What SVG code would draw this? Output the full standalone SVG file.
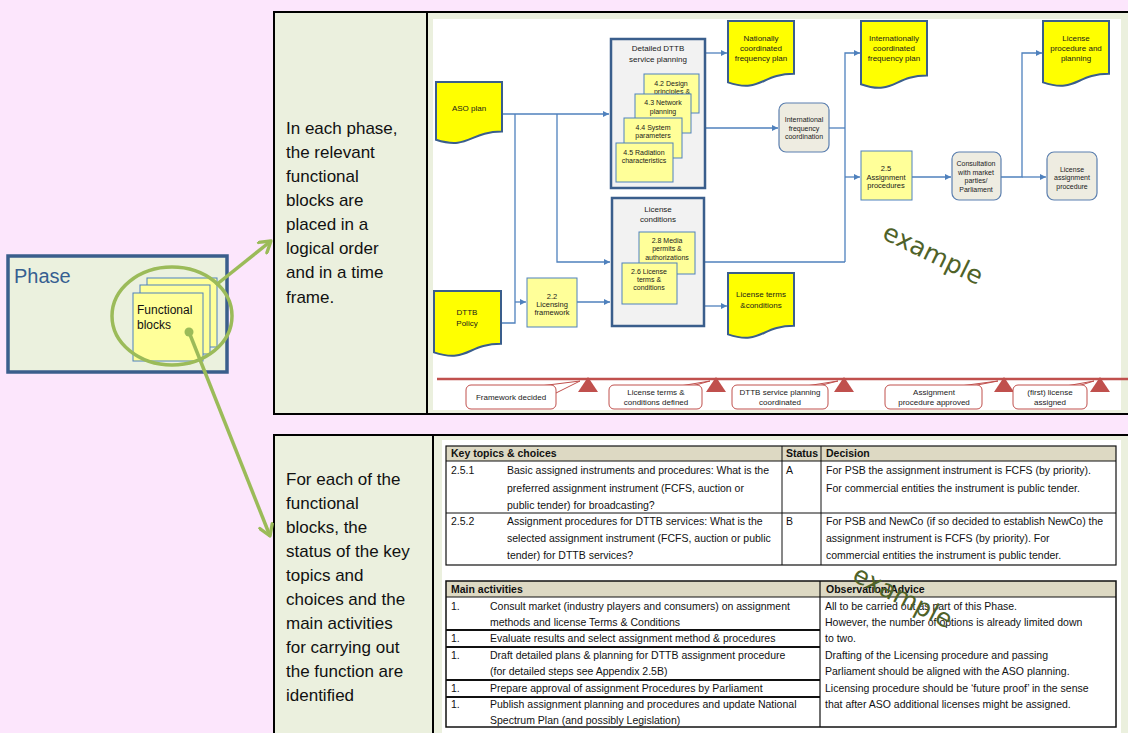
<svg xmlns="http://www.w3.org/2000/svg" width="1128" height="733" viewBox="0 0 1128 733">
<defs>
<style>
  .lbl{font-family:"Liberation Sans",Arial,sans-serif;font-size:8px;fill:#1a1a1a;text-anchor:middle}
  .s7{font-size:7px}
  .s75{font-size:7.5px}
  .doc{fill:#FFFF00;stroke:#3A5E8C;stroke-width:2}
  .fb{fill:#FFFF99;stroke:#4F81BD;stroke-width:1}
  .grp{fill:#F2F2F2;stroke:#3A5E8C;stroke-width:2.5}
  .rbox{fill:#EEECE1;stroke:#5B7FAF;stroke-width:1.2}
  .conn{fill:none;stroke:#4F81BD;stroke-width:1.3}
  .tl{fill:#fff;stroke:#C0504D;stroke-width:1}
  .tri{fill:#C0504D}
  .big{font-family:"Liberation Sans",Arial,sans-serif;font-size:17px;fill:#111}
  .tb{font-family:"Liberation Sans",Arial,sans-serif;font-size:10.5px;fill:#111}
  .bold{font-weight:bold}
  .wm{font-family:"DejaVu Sans",Verdana,sans-serif;font-size:25px;fill:#4F6228}
  .frame{fill:none;stroke:#000;stroke-width:2}
  .green{fill:none;stroke:#9BBB59;stroke-width:3.5}
</style>
<marker id="arr" viewBox="0 0 10 10" refX="10" refY="5" markerWidth="7" markerHeight="6" markerUnits="userSpaceOnUse" orient="auto">
  <path d="M0,0 L10,5 L0,10 z" fill="#4F81BD"/>
</marker>
<marker id="garr" viewBox="0 0 12 12" refX="10" refY="6" markerWidth="16" markerHeight="16" markerUnits="userSpaceOnUse" orient="auto">
  <path d="M2,1 L10,6 L2,11" fill="none" stroke="#9BBB59" stroke-width="2.5" stroke-linecap="round" stroke-linejoin="round"/>
</marker>
</defs>

<!-- page background -->
<rect x="0" y="0" width="1128" height="733" fill="#FCE6FC"/>

<!-- upper panel -->
<g id="panel-top">
  <rect x="274" y="12" width="860" height="402" fill="#EBF0DE"/>
  <rect x="433" y="19" width="688" height="391" fill="#FFFFFF"/>
  <path class="frame" d="M1128,12 H274 V414 H1128 M427,12 V414"/>
  <text class="big" x="286" y="134">In each phase,</text>
  <text class="big" x="286" y="158">the relevant</text>
  <text class="big" x="286" y="182">functional</text>
  <text class="big" x="286" y="206">blocks are</text>
  <text class="big" x="286" y="230">placed in a</text>
  <text class="big" x="286" y="254">logical order</text>
  <text class="big" x="286" y="278">and in a time</text>
  <text class="big" x="286" y="303">frame.</text>
</g>

<!-- lower panel -->
<g id="panel-bottom">
  <rect x="274" y="435" width="860" height="300" fill="#EBF0DE"/>
  <rect x="442" y="440" width="679" height="293" fill="#FFFFFF"/>
  <path class="frame" d="M1128,435 H274 V733 M433,435 V733"/>
  <text class="big" x="286" y="485">For each of the</text>
  <text class="big" x="286" y="509">functional</text>
  <text class="big" x="286" y="533">blocks, the</text>
  <text class="big" x="286" y="557">status of the key</text>
  <text class="big" x="286" y="581">topics and</text>
  <text class="big" x="286" y="605">choices and the</text>
  <text class="big" x="286" y="629">main activities</text>
  <text class="big" x="286" y="653">for carrying out</text>
  <text class="big" x="286" y="677">the function are</text>
  <text class="big" x="286" y="701">identified</text>
</g>

<!-- phase overview -->
<g id="phase">
  <rect x="8" y="256" width="219" height="116" fill="#EBF1DE" stroke="#3A5E8C" stroke-width="3.5"/>
  <text x="14" y="283" font-family="Liberation Sans, Arial, sans-serif" font-size="20" fill="#365F91">Phase</text>
  <rect x="147" y="278" width="70" height="69" class="fb"/>
  <rect x="140" y="285" width="70" height="69" class="fb"/>
  <rect x="133" y="293" width="70" height="68" class="fb"/>
  <text x="137" y="314" font-family="Liberation Sans, Arial, sans-serif" font-size="12" fill="#111">Functional</text>
  <text x="137" y="329" font-family="Liberation Sans, Arial, sans-serif" font-size="12" fill="#111">blocks</text>
  <ellipse cx="172" cy="316" rx="60" ry="49" class="green"/>
</g>

<g id="pointers">
  <path class="green" d="M216,285 L271,241" marker-end="url(#garr)"/>
  <circle cx="189" cy="332" r="4.5" fill="#9BBB59"/>
  <path class="green" d="M189,332 L270,536" marker-end="url(#garr)"/>
</g>

<!-- process flow -->
<g id="connectors">
  <path class="conn" d="M502,114 H609" marker-end="url(#arr)"/>
  <path class="conn" d="M515,114 V323 H501"/>
  <path class="conn" d="M515,302 H526" marker-end="url(#arr)"/>
  <path class="conn" d="M557,114 V262 H610" marker-end="url(#arr)"/>
  <path class="conn" d="M577,302 H610" marker-end="url(#arr)"/>
  <path class="conn" d="M706,53 H727" marker-end="url(#arr)"/>
  <path class="conn" d="M706,128 H778" marker-end="url(#arr)"/>
  <path class="conn" d="M829,128 H845"/>
  <path class="conn" d="M845,262 V53 H860" marker-end="url(#arr)"/>
  <path class="conn" d="M705,262 H845"/>
  <path class="conn" d="M845,177 H860" marker-end="url(#arr)"/>
  <path class="conn" d="M912,177 H951" marker-end="url(#arr)"/>
  <path class="conn" d="M1001,177 H1022 V53 H1042" marker-end="url(#arr)"/>
  <path class="conn" d="M1022,177 H1046" marker-end="url(#arr)"/>
  <path class="conn" d="M705,306 H727" marker-end="url(#arr)"/>
</g>

<g id="aso-plan">
  <path class="doc" d="M436,82 H502 V131.6 C469,131.6 469,150.2 436,139.7 Z"/>
  <text class="lbl" x="469" y="111">ASO plan</text>
</g>

<g id="dttb-policy">
  <path class="doc" d="M434,291 H501 V343.8 C467.5,343.8 467.5,363.6 434,352.4 Z"/>
  <text class="lbl" x="467" y="315">DTTB</text>
  <text class="lbl" x="467" y="326">Policy</text>
</g>

<g id="licensing-framework">
  <rect class="fb" x="527" y="278" width="50" height="49"/>
  <text class="lbl s75" x="552" y="299">2.2</text>
  <text class="lbl s75" x="552" y="307">Licensing</text>
  <text class="lbl s75" x="552" y="315">framework</text>
</g>

<g id="detailed-dttb-planning">
  <rect class="grp" x="611" y="39" width="94" height="149"/>
  <text class="lbl" x="658" y="51">Detailed  DTTB</text>
  <text class="lbl" x="658" y="62">service planning</text>
  <rect class="fb" x="644" y="74" width="55" height="39"/>
  <text class="lbl s7" x="671" y="86">4.2 Design</text>
  <text class="lbl s7" x="672" y="94">principles &amp;</text>
  <rect class="fb" x="635" y="94" width="56" height="39"/>
  <text class="lbl s7" x="663" y="105">4.3 Network</text>
  <text class="lbl s7" x="663" y="114">planning</text>
  <rect class="fb" x="624" y="118" width="58" height="40"/>
  <text class="lbl s7" x="653" y="130">4.4 System</text>
  <text class="lbl s7" x="653" y="138">parameters</text>
  <rect class="fb" x="616" y="143" width="57" height="39"/>
  <text class="lbl s7" x="644" y="155">4.5 Radiation</text>
  <text class="lbl s7" x="644" y="163">characteristics</text>
</g>

<g id="license-conditions">
  <rect class="grp" x="612" y="198" width="92" height="128"/>
  <text class="lbl" x="658" y="212">License</text>
  <text class="lbl" x="658" y="222">conditions</text>
  <rect class="fb" x="639" y="232" width="56" height="42"/>
  <text class="lbl s7" x="667" y="243">2.8 Media</text>
  <text class="lbl s7" x="667" y="251">permits &amp;</text>
  <text class="lbl s7" x="667" y="260">authorizations</text>
  <rect class="fb" x="622" y="263" width="55" height="41"/>
  <text class="lbl s7" x="649" y="274">2.6  License</text>
  <text class="lbl s7" x="649" y="282">terms &amp;</text>
  <text class="lbl s7" x="649" y="290">conditions</text>
</g>

<g id="national-plan">
  <path class="doc" d="M728,21 H794 V73.8 C761,73.8 761,93.6 728,82.4 Z"/>
  <text class="lbl" x="761" y="41">Nationally</text>
  <text class="lbl" x="761" y="51">coordinated</text>
  <text class="lbl" x="761" y="61">frequency plan</text>
</g>

<g id="license-terms-doc">
  <path class="doc" d="M728,273 H794 V325.8 C761,325.8 761,345.6 728,334.4 Z"/>
  <text class="lbl" x="761" y="297">License terms</text>
  <text class="lbl" x="761" y="308">&amp;conditions</text>
</g>

<g id="intl-coordination">
  <rect class="rbox" x="779" y="103" width="50" height="49" rx="7"/>
  <text class="lbl s7" x="804" y="121.5">International</text>
  <text class="lbl s7" x="804" y="130.5">frequency</text>
  <text class="lbl s7" x="804" y="139">coordination</text>
</g>

<g id="intl-plan">
  <path class="doc" d="M861,21 H927 V75.4 C894,75.4 894,95.8 861,84.2 Z"/>
  <text class="lbl" x="894" y="41">Internationally</text>
  <text class="lbl" x="894" y="51">coordinated</text>
  <text class="lbl" x="894" y="61">frequency plan</text>
</g>

<g id="assignment-procedures">
  <rect class="fb" x="861" y="151" width="51" height="49" stroke="#8EA9C8"/>
  <text class="lbl s75" x="886" y="171">2.5</text>
  <text class="lbl s75" x="886" y="179.5">Assignment</text>
  <text class="lbl s75" x="886" y="188">procedures</text>
</g>

<g id="consultation">
  <rect class="rbox" x="952" y="152" width="49" height="48" rx="7"/>
  <text class="lbl s7" x="976" y="165.5">Consultation</text>
  <text class="lbl s7" x="976" y="174.5">with market</text>
  <text class="lbl s7" x="976" y="183">parties/</text>
  <text class="lbl s7" x="976" y="191.5">Parliament</text>
</g>

<g id="license-procedure-doc">
  <path class="doc" d="M1043,21 H1109 V73.8 C1076,73.8 1076,93.6 1043,82.4 Z"/>
  <text class="lbl" x="1076" y="41">License</text>
  <text class="lbl" x="1076" y="51">procedure and</text>
  <text class="lbl" x="1076" y="61">planning</text>
</g>

<g id="license-assignment">
  <rect class="rbox" x="1047" y="152" width="50" height="48" rx="7"/>
  <text class="lbl s7" x="1072" y="171.5">License</text>
  <text class="lbl s7" x="1072" y="180">assignment</text>
  <text class="lbl s7" x="1072" y="188.5">procedure</text>
</g>

<text class="wm" transform="translate(881,238) rotate(26)">example</text>

<!-- milestones -->
<g id="timeline">
  <path d="M437,379 H1128" stroke="#C0504D" stroke-width="2.5"/>
  <polygon class="tri" points="588,377 598,392 578,392"/>
  <polygon class="tri" points="716,377 726,392 706,392"/>
  <polygon class="tri" points="844,377 854,392 834,392"/>
  <polygon class="tri" points="1004,377 1014,392 994,392"/>
  <polygon class="tri" points="1100,377 1110,392 1090,392"/>

  <polygon class="tl" points="540,386 580,381 554,394"/>
  <rect class="tl" x="466" y="385" width="90" height="24" rx="5"/>
  <text class="lbl" x="511" y="400">Framework decided</text>

  <polygon class="tl" points="680,386 710,381 692,386"/>
  <rect class="tl" x="609" y="385" width="93" height="24" rx="5"/>
  <text class="lbl" x="656" y="395">License terms &amp;</text>
  <text class="lbl" x="656" y="405">conditions defined</text>

  <polygon class="tl" points="806,386 838,381 818,386"/>
  <rect class="tl" x="732" y="385" width="96" height="24" rx="5"/>
  <text class="lbl" x="780" y="395">DTTB service planning</text>
  <text class="lbl" x="780" y="405">coordinated</text>

  <polygon class="tl" points="960,386 998,381 972,386"/>
  <rect class="tl" x="885" y="385" width="97" height="24" rx="5"/>
  <text class="lbl" x="934" y="395">Assignment</text>
  <text class="lbl" x="934" y="405">procedure approved</text>

  <polygon class="tl" points="1066,386 1094,381 1078,386"/>
  <rect class="tl" x="1013" y="385" width="74" height="24" rx="5"/>
  <text class="lbl" x="1050" y="395">(first) license</text>
  <text class="lbl" x="1050" y="405">assigned</text>
</g>

<!-- key topics table -->
<g id="table-key-topics">
  <rect x="446" y="446" width="670" height="15" fill="#DDD9C3"/>
  <rect x="446" y="446" width="670" height="119" fill="none" stroke="#111" stroke-width="1.2"/>
  <path d="M446,461 H1116 M446,513 H1116 M782,446 V565 M821,446 V565" stroke="#111" stroke-width="1"/>
  <text class="tb bold" x="451" y="457">Key topics &amp; choices</text>
  <text class="tb bold" x="786" y="457">Status</text>
  <text class="tb bold" x="826" y="457">Decision</text>

  <text class="tb" x="451" y="474">2.5.1</text>
  <text class="tb" x="507" y="474">Basic assigned instruments and procedures: What is the</text>
  <text class="tb" x="507" y="492">preferred assignment instrument (FCFS, auction or</text>
  <text class="tb" x="507" y="509">public tender) for broadcasting?</text>
  <text class="tb" x="786" y="474">A</text>
  <text class="tb" x="826" y="474">For PSB the assignment instrument is FCFS (by priority).</text>
  <text class="tb" x="826" y="492">For commercial entities the instrument is public tender.</text>

  <text class="tb" x="451" y="525">2.5.2</text>
  <text class="tb" x="507" y="525">Assignment procedures for DTTB services: What is the</text>
  <text class="tb" x="507" y="542">selected assignment instrument (FCFS, auction or public</text>
  <text class="tb" x="507" y="559">tender) for DTTB services?</text>
  <text class="tb" x="786" y="525">B</text>
  <text class="tb" x="826" y="525">For PSB and NewCo (if so decided to establish NewCo) the</text>
  <text class="tb" x="826" y="542">assignment instrument is FCFS (by priority). For</text>
  <text class="tb" x="826" y="559">commercial entities the instrument is public tender.</text>
</g>

<!-- activities table -->
<g id="table-activities">
  <rect x="446" y="581" width="670" height="16" fill="#DDD9C3"/>
  <rect x="446" y="581" width="670" height="146" fill="none" stroke="#111" stroke-width="1.5"/>
  <path d="M446,597 H1116 M820,581 V727" stroke="#111" stroke-width="1.2"/>
  <path d="M446,630 H820 M446,647 H820 M446,680 H820 M446,697 H820" stroke="#111" stroke-width="2"/>
  <text class="tb bold" x="451" y="593">Main activities</text>
  <text class="tb bold" x="826" y="593">Observation/Advice</text>

  <text class="tb" x="451" y="610">1.</text>
  <text class="tb" x="490" y="610">Consult market (industry players and consumers) on assignment</text>
  <text class="tb" x="490" y="626">methods and license Terms &amp; Conditions</text>
  <text class="tb" x="451" y="642">1.</text>
  <text class="tb" x="490" y="642">Evaluate results and select assignment method &amp; procedures</text>
  <text class="tb" x="451" y="659">1.</text>
  <text class="tb" x="490" y="659">Draft detailed plans &amp; planning for DTTB assignment procedure</text>
  <text class="tb" x="490" y="675">(for detailed steps see Appendix 2.5B)</text>
  <text class="tb" x="451" y="692">1.</text>
  <text class="tb" x="490" y="692">Prepare approval of assignment Procedures by Parliament</text>
  <text class="tb" x="451" y="708">1.</text>
  <text class="tb" x="490" y="708">Publish assignment planning and procedures and update National</text>
  <text class="tb" x="490" y="724">Spectrum Plan (and possibly Legislation)</text>

  <text class="tb" x="825" y="610">All to be carried out as part of this Phase.</text>
  <text class="tb" x="825" y="626">However, the number of options is already limited down</text>
  <text class="tb" x="825" y="642">to two.</text>
  <text class="tb" x="825" y="659">Drafting of the Licensing procedure and passing</text>
  <text class="tb" x="825" y="675">Parliament should be aligned with the ASO planning.</text>
  <text class="tb" x="825" y="692">Licensing procedure should be ‘future proof’ in the sense</text>
  <text class="tb" x="825" y="708">that after ASO additional licenses might be assigned.</text>
</g>

<text class="wm" font-size="24" transform="translate(851,580) rotate(27)">example</text>
</svg>
